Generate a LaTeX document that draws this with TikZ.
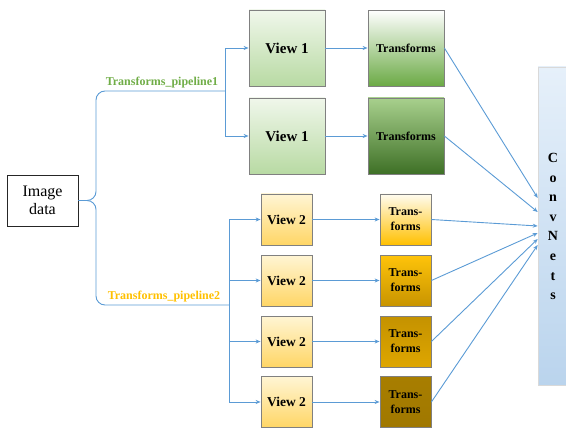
\documentclass[tikz,border=0pt]{standalone}
\usepackage{fontspec}
\setmainfont{Liberation Serif}
\usetikzlibrary{arrows.meta}

\definecolor{linkblue}{RGB}{91,155,213}
\definecolor{pipegreen}{RGB}{112,173,71}
\definecolor{pipegold}{RGB}{255,192,0}
\definecolor{boxgray}{RGB}{128,128,128}

\tikzset{
  link/.style={draw=linkblue, line width=0.9pt},
  arr/.style={link, -{Stealth[length=5pt,width=4pt]}},
  bigbox/.style={draw=boxgray, line width=0.8pt, minimum width=76pt, minimum height=76pt, inner sep=0pt, font=\fontsize{12}{14}\selectfont\bfseries},
  smallbox/.style={draw=boxgray, line width=0.8pt, minimum width=51pt, minimum height=51pt, inner sep=0pt, align=center, font=\fontsize{12}{15}\selectfont\bfseries},
  viewone/.style={bigbox, top color={rgb,255:red,240;green,247;blue,235}, bottom color={rgb,255:red,184;green,218;blue,163}, font=\fontsize{15}{18}\selectfont\bfseries},
  viewtwo/.style={smallbox, top color={rgb,255:red,255;green,245;blue,212}, bottom color={rgb,255:red,255;green,214;blue,102}, font=\fontsize{13.5}{16}\selectfont\bfseries},
  pipelabel/.style={font=\fontsize{12}{14}\selectfont\bfseries, anchor=south, inner sep=1pt}
}

\begin{document}
\begin{tikzpicture}[x=1pt,y=-1pt]
\useasboundingbox (0,0) rectangle (566,428);

% input
\node[draw=black!85, line width=0.9pt, minimum width=71pt, minimum height=51pt, align=center, font=\fontsize{16}{18}\selectfont] (img) at (42.5,200.5) {Image\\data};

% pipeline 1
\node[viewone] (v1a) at (287,48) {View 1};
\node[viewone] (v1b) at (287,136) {View 1};
\node[bigbox, top color=white, bottom color={rgb,255:red,107;green,170;blue,69}] (t1a) at (406,48) {Transforms};
\node[bigbox, top color={rgb,255:red,168;green,208;blue,141}, bottom color={rgb,255:red,62;green,112;blue,38}] (t1b) at (406,136) {Transforms};

% pipeline 2
\node[viewtwo] (v2a) at (286.5,219.5) {View 2};
\node[viewtwo] (v2b) at (286.5,280.5) {View 2};
\node[viewtwo] (v2c) at (286.5,341.5) {View 2};
\node[viewtwo] (v2d) at (286.5,402) {View 2};
\node[smallbox, top color={rgb,255:red,255;green,252;blue,240}, bottom color={rgb,255:red,255;green,192;blue,0}] (t2a) at (405.5,219.5) {Trans-\\forms};
\node[smallbox, top color={rgb,255:red,255;green,196;blue,10}, bottom color={rgb,255:red,200;green,148;blue,0}] (t2b) at (405.5,280.5) {Trans-\\forms};
\node[smallbox, top color={rgb,255:red,196;green,146;blue,0}, middle color={rgb,255:red,255;green,194;blue,10}, bottom color={rgb,255:red,222;green,166;blue,0}] (t2c) at (405.5,341.5) {Trans-\\forms};
\node[smallbox, top color={rgb,255:red,168;green,126;blue,0}, middle color={rgb,255:red,212;green,160;blue,10}, bottom color={rgb,255:red,160;green,120;blue,0}] (t2d) at (405.5,402) {Trans-\\forms};

% network
\node[draw=black!15, line width=0.6pt, top color={rgb,255:red,230;green,240;blue,250}, bottom color={rgb,255:red,186;green,212;blue,237}, minimum width=30pt, minimum height=318pt, inner sep=0pt] (cnn) at (553,226) {};
\node[align=center, font=\fontsize{14}{19.6}\selectfont\bfseries] (cnnlabel) at (553,226.5) {C\\o\\n\\v\\N\\e\\t\\s};

% split points
\coordinate (split1) at (225,91);
\coordinate (split2) at (229,305);

\draw[link, rounded corners=9pt] (img.east) -- (96,200.5) -- (96,91) -- (split1);
\draw[link, rounded corners=9pt] (img.east) -- (96,200.5) -- (96,305) -- (split2);
\node[pipelabel, text=pipegreen] (pipe1) at (162,89) {Transforms\_pipeline1};
\node[pipelabel, text=pipegold] (pipe2) at (164,303) {Transforms\_pipeline2};

\draw[arr] (split1) |- (v1a.west);
\draw[arr] (split1) |- (v1b.west);
\foreach \v in {v2a,v2b,v2c,v2d}
  \draw[arr] (split2) |- (\v.west);

\draw[arr] (v1a) -- (t1a);
\draw[arr] (v1b) -- (t1b);
\draw[arr] (v2a) -- (t2a);
\draw[arr] (v2b) -- (t2b);
\draw[arr] (v2c) -- (t2c);
\draw[arr] (v2d) -- (t2d);

\draw[arr] (t1a.east) -- ([yshift=28pt]cnn.west);
\draw[arr] (t1b.east) -- ([yshift=14pt]cnn.west);
\draw[arr] (t2a.east) -- ([yshift=0pt]cnn.west);
\draw[arr] (t2b.east) -- ([yshift=-7pt]cnn.west);
\draw[arr] (t2c.east) -- ([yshift=-13pt]cnn.west);
\draw[arr] (t2d.east) -- ([yshift=-19pt]cnn.west);
\end{tikzpicture}
\end{document}
